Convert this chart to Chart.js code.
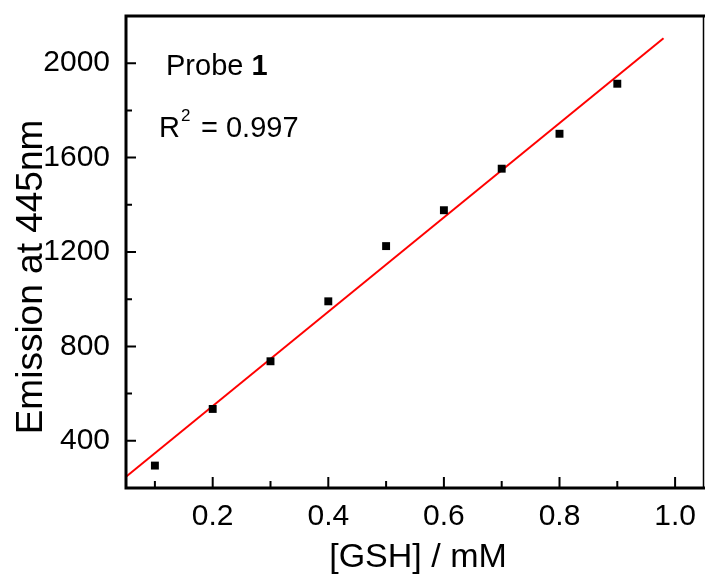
<!DOCTYPE html>
<html>
<head>
<meta charset="utf-8">
<script src="https://cdn.jsdelivr.net/npm/chart.js@4/dist/chart.umd.min.js"></script>
<style>
  html, body { margin: 0; padding: 0; background: #fff; }
  canvas { display: block; }
</style>
</head>
<body>
<canvas id="grafico" width="705" height="574"></canvas>
<script>
// Datos
const concentraciones = [0.1, 0.2, 0.3, 0.4, 0.5, 0.6, 0.7, 0.8, 0.9];
const emision = [295, 535, 737, 991, 1225, 1377, 1553, 1701, 1913];

// Recta de ajuste (extremos)
const ajusteX = [0.05, 0.98];
const ajusteY = [248, 2106];

// Marcas de los ejes
const ticksX = [0.2, 0.4, 0.6, 0.8, 1.0];
const ticksMenoresX = [0.1, 0.3, 0.5, 0.7, 0.9];
const ticksY = [400, 800, 1200, 1600, 2000];
const ticksMenoresY = [600, 1000, 1400, 1800];

const fuente = "Arial, 'Liberation Sans', sans-serif";

// Marco, marcas hacia dentro, títulos y anotaciones
const marcoPlugin = {
    id: 'marco',
    afterDraw(chart) {
        const { ctx, chartArea: a, scales } = chart;
        const x = scales.x, y = scales.y;
        ctx.save();
        ctx.strokeStyle = '#000';
        ctx.lineCap = 'square';

        // marcas
        ctx.lineWidth = 2;
        ctx.beginPath();
        ticksX.forEach(v => { const p = x.getPixelForValue(v); ctx.moveTo(p, a.bottom); ctx.lineTo(p, a.bottom - 10); });
        ticksMenoresX.forEach(v => { const p = x.getPixelForValue(v); ctx.moveTo(p, a.bottom); ctx.lineTo(p, a.bottom - 6); });
        ticksY.forEach(v => { const p = y.getPixelForValue(v); ctx.moveTo(a.left, p); ctx.lineTo(a.left + 9, p); });
        ticksMenoresY.forEach(v => { const p = y.getPixelForValue(v); ctx.moveTo(a.left, p); ctx.lineTo(a.left + 5, p); });
        ctx.stroke();

        // marco
        ctx.lineWidth = 3;
        ctx.beginPath();
        ctx.moveTo(a.right, a.top);
        ctx.lineTo(a.left, a.top);
        ctx.lineTo(a.left, a.bottom);
        ctx.lineTo(a.right, a.bottom);
        ctx.stroke();
        ctx.lineWidth = 1.5;
        ctx.beginPath();
        ctx.moveTo(a.right - 0.5, a.top);
        ctx.lineTo(a.right - 0.5, a.bottom);
        ctx.stroke();

        // títulos de los ejes
        ctx.fillStyle = '#000';
        ctx.textBaseline = 'alphabetic';
        ctx.font = '34px ' + fuente;
        ctx.textAlign = 'center';
        ctx.fillText('[GSH] / mM', 418, 567);

        ctx.save();
        ctx.translate(42, 277);
        ctx.rotate(-Math.PI / 2);
        ctx.font = '37px ' + fuente;
        ctx.fillText('Emission at 445nm', 0, 0);
        ctx.restore();

        // anotaciones
        ctx.textAlign = 'left';
        ctx.font = '29px ' + fuente;
        ctx.fillText('Probe ', 166, 75);
        const w = ctx.measureText('Probe ').width;
        ctx.font = 'bold 29px ' + fuente;
        ctx.fillText('1', 166 + w, 75);

        ctx.font = '29px ' + fuente;
        ctx.fillText('R', 159, 137);
        const wr = ctx.measureText('R').width;
        ctx.font = '17px ' + fuente;
        ctx.fillText('2', 159 + wr + 1, 121);
        ctx.font = '29px ' + fuente;
        ctx.fillText(' = 0.997', 159 + wr + 13, 137);
        ctx.restore();
    }
};

// Quita el relleno automático que Chart.js reserva para las etiquetas
function ajustarEje(s, prop, tam) {
    s[prop] = tam;
    s.paddingTop = 0;
    s.paddingBottom = 0;
    s.paddingLeft = 0;
    s.paddingRight = 0;
}

new Chart(document.getElementById('grafico'), {
    type: 'scatter',
    data: {
        datasets: [
            {
                label: 'Ajuste',
                type: 'line',
                data: ajusteX.map((v, i) => ({ x: v, y: ajusteY[i] })),
                borderColor: '#ff0000',
                borderWidth: 2,
                pointRadius: 0,
                fill: false,
                order: 2
            },
            {
                label: 'Probe 1',
                data: concentraciones.map((v, i) => ({ x: v, y: emision[i] })),
                backgroundColor: '#000',
                borderColor: '#000',
                pointStyle: 'rect',
                pointRadius: 5.6,
                borderWidth: 0,
                order: 1
            }
        ]
    },
    options: {
        responsive: false,
        animation: false,
        layout: { autoPadding: false, padding: { top: 16, right: 1, left: 0, bottom: 0 } },
        plugins: {
            legend: { display: false },
            tooltip: { enabled: false }
        },
        scales: {
            x: {
                type: 'linear',
                min: 0.05,
                max: 1.05,
                grid: { display: false, drawTicks: false },
                border: { display: false },
                afterBuildTicks: s => { s.ticks = ticksX.map(v => ({ value: v })); },
                afterFit: s => ajustarEje(s, 'height', 86),
                ticks: {
                    color: '#000',
                    padding: 11,
                    font: { family: fuente, size: 30 },
                    callback: v => v.toFixed(1)
                }
            },
            y: {
                type: 'linear',
                min: 200,
                max: 2200,
                grid: { display: false, drawTicks: false },
                border: { display: false },
                afterBuildTicks: s => { s.ticks = ticksY.map(v => ({ value: v })); },
                afterFit: s => ajustarEje(s, 'width', 126),
                ticks: {
                    color: '#000',
                    padding: 16,
                    font: { family: fuente, size: 30 },
                    callback: v => String(v)
                }
            }
        }
    },
    plugins: [marcoPlugin]
});
</script>
</body>
</html>
